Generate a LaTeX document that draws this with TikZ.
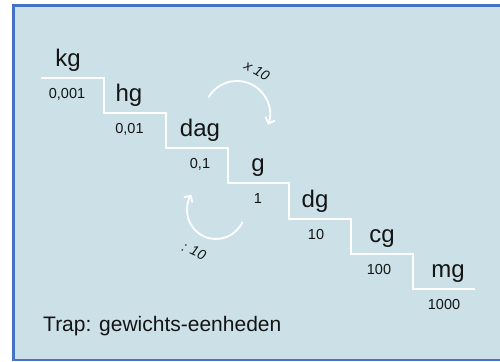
\documentclass[tikz,border=0pt]{standalone}
\usepackage{fontspec}
\setmainfont{Liberation Sans}
\usetikzlibrary{arrows.meta}
\definecolor{boxfill}{RGB}{204,224,232}
\definecolor{boxline}{RGB}{68,114,196}
\definecolor{ink}{RGB}{20,20,20}
\tikzset{
  unit/.style={anchor=base, inner sep=0pt, text=ink, font=\fontsize{24}{24}\selectfont},
  num/.style={anchor=base, inner sep=0pt, text=ink, font=\fontsize{14.5}{15}\selectfont},
  turnlabel/.style={inner sep=0pt, text=ink, font=\fontsize{14}{14}\selectfont\itshape},
  stair/.style={draw=white, line width=2pt, line join=miter},
  turn/.style={draw=white, line width=1.8pt, -{Straight Barb[length=5pt,width=10pt]}},
}
\begin{document}
\begin{tikzpicture}[x=1pt,y=1pt]
\useasboundingbox (0,0) rectangle (500,361);
\path[fill=boxfill, draw=boxline, line width=2.7pt] (13.7,1) rectangle (506,355.7);
% stairs
\draw[stair] (41,283) -- (104,283) -- (104,248) -- (166,248) -- (166,213) -- (228,213)
  -- (228,178) -- (289,178) -- (289,142) -- (351,142) -- (351,107) -- (413,107)
  -- (413,72) -- (475,72);
% units
\node[unit] (kg)  at (68,294)  {kg};
\node[unit] (hg)  at (129,259) {hg};
\node[unit] (dag) at (200,224) {dag};
\node[unit] (g)   at (258,189) {g};
\node[unit] (dg)  at (315,153) {dg};
\node[unit] (cg)  at (382,118) {cg};
\node[unit] (mg)  at (448,83)  {mg};
% factors
\node[num] (nkg)  at (67,262)    {0,001};
\node[num] (nhg)  at (129.5,227) {0,01};
\node[num] (ndag) at (200,192)   {0,1};
\node[num] (ng)   at (258,157)   {1};
\node[num] (ndg)  at (316,121)   {10};
\node[num] (ncg)  at (379,86)    {100};
\node[num] (nmg)  at (444,51)    {1000};
% turning arrows
\draw[turn] (208.4,263.5) arc[start angle=150, end angle=-19, radius=33];
\draw[turn] (242.5,139.2) arc[start angle=-24, end angle=-212, radius=29];
\node[turnlabel, rotate=-30] (times) at (257,290) {x 10};
\node[turnlabel, rotate=-25] (div) at (194,110) {: 10};
% title
\node[anchor=base west, inner sep=0pt, text=ink, font=\fontsize{21}{21}\selectfont] (title) at (43,29) {Trap: gewichts-eenheden};
\end{tikzpicture}
\end{document}
